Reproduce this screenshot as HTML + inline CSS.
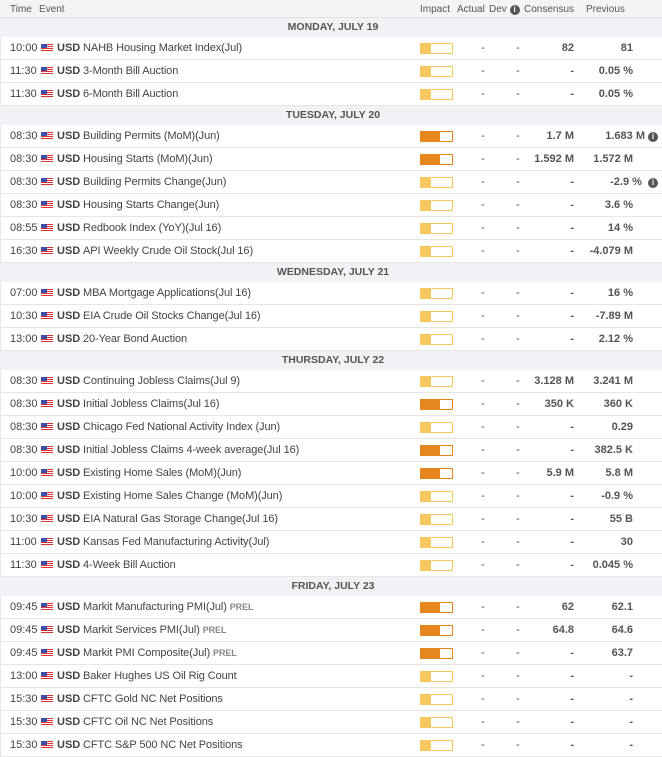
<!DOCTYPE html><html><head><meta charset="utf-8"><style>
*{margin:0;padding:0;box-sizing:border-box}
body{width:662px;height:757px;overflow:hidden;background:#fff;font-family:"Liberation Sans",sans-serif;font-size:11px;color:#444;white-space:nowrap}
.h{position:relative;height:18px;background:#f4f4f7;border-bottom:1px solid #e0e0e4;font-size:10px;color:#555}
.h span{position:absolute;top:4px}
.day{height:19px;background:#f2f2f6;text-align:center;font-weight:bold;font-size:10.5px;line-height:19px;color:#555;padding-left:4px}
.r{position:relative;height:23px;border-bottom:1px solid #e6e6ea;line-height:22px;border-left:1px solid #e6e6ea}
.r span{position:absolute;top:0;white-space:nowrap}
.t{left:9px}.c{left:56px;font-weight:bold}.e{left:82px;letter-spacing:-0.1px}
.f{position:absolute;left:40px;top:7px;width:12px;height:8px;background:repeating-linear-gradient(#d33 0 1px,#fff 1px 2px)}
.f:after{content:"";position:absolute;left:0;top:0;width:6px;height:4px;background:#3c4ea8}
.b{position:absolute;left:419px;top:6px;width:33px;height:11px;background:#fff}
.lo{border:1px solid #f6c85f;background:linear-gradient(90deg,#f6c85f 10px,#fff 10px)}
.md{border:1px solid #e3871e;background:linear-gradient(90deg,#e3871e 19px,#fff 19px)}
.a{left:480px}.d{left:515px}
.cs{right:88px;text-align:right}.p{right:29px;text-align:right}
.cs,.p{font-weight:bold;color:#555}
.pr{font-size:9px;font-weight:bold;color:#888}
.i{display:inline-block;width:10px;height:10px;border-radius:50%;background:#555;color:#fff;font-size:8px;line-height:10px;text-align:center;font-weight:bold;vertical-align:0;margin-left:3px;font-style:normal}
</style></head><body>
<div class="h"><span style="left:10px">Time</span><span style="left:39px">Event</span><span style="left:420px">Impact</span><span style="left:457px">Actual</span><span style="left:489px">Dev <span class="i" style="position:static;margin-left:0">i</span></span><span style="left:524px">Consensus</span><span style="left:586px">Previous</span></div>
<div class="day">MONDAY, JULY 19</div>
<div class="r"><span class="t">10:00</span><i class="f"></i><span class="c">USD</span><span class="e">NAHB Housing Market Index(Jul)</span><i class="b lo"></i><span class="a">-</span><span class="d">-</span><span class="cs">82</span><span class="p">81</span></div>
<div class="r"><span class="t">11:30</span><i class="f"></i><span class="c">USD</span><span class="e">3-Month Bill Auction</span><i class="b lo"></i><span class="a">-</span><span class="d">-</span><span class="cs">-</span><span class="p">0.05 %</span></div>
<div class="r"><span class="t">11:30</span><i class="f"></i><span class="c">USD</span><span class="e">6-Month Bill Auction</span><i class="b lo"></i><span class="a">-</span><span class="d">-</span><span class="cs">-</span><span class="p">0.05 %</span></div>
<div class="day">TUESDAY, JULY 20</div>
<div class="r"><span class="t">08:30</span><i class="f"></i><span class="c">USD</span><span class="e">Building Permits (MoM)(Jun)</span><i class="b md"></i><span class="a">-</span><span class="d">-</span><span class="cs">1.7 M</span><span class="p" style="right:4px">1.683 M<i class="i">i</i></span></div>
<div class="r"><span class="t">08:30</span><i class="f"></i><span class="c">USD</span><span class="e">Housing Starts (MoM)(Jun)</span><i class="b md"></i><span class="a">-</span><span class="d">-</span><span class="cs">1.592 M</span><span class="p">1.572 M</span></div>
<div class="r"><span class="t">08:30</span><i class="f"></i><span class="c">USD</span><span class="e">Building Permits Change(Jun)</span><i class="b lo"></i><span class="a">-</span><span class="d">-</span><span class="cs">-</span><span class="p" style="right:4px">-2.9 %&nbsp;<i class="i">i</i></span></div>
<div class="r"><span class="t">08:30</span><i class="f"></i><span class="c">USD</span><span class="e">Housing Starts Change(Jun)</span><i class="b lo"></i><span class="a">-</span><span class="d">-</span><span class="cs">-</span><span class="p">3.6 %</span></div>
<div class="r"><span class="t">08:55</span><i class="f"></i><span class="c">USD</span><span class="e">Redbook Index (YoY)(Jul 16)</span><i class="b lo"></i><span class="a">-</span><span class="d">-</span><span class="cs">-</span><span class="p">14 %</span></div>
<div class="r"><span class="t">16:30</span><i class="f"></i><span class="c">USD</span><span class="e">API Weekly Crude Oil Stock(Jul 16)</span><i class="b lo"></i><span class="a">-</span><span class="d">-</span><span class="cs">-</span><span class="p">-4.079 M</span></div>
<div class="day">WEDNESDAY, JULY 21</div>
<div class="r"><span class="t">07:00</span><i class="f"></i><span class="c">USD</span><span class="e">MBA Mortgage Applications(Jul 16)</span><i class="b lo"></i><span class="a">-</span><span class="d">-</span><span class="cs">-</span><span class="p">16 %</span></div>
<div class="r"><span class="t">10:30</span><i class="f"></i><span class="c">USD</span><span class="e">EIA Crude Oil Stocks Change(Jul 16)</span><i class="b lo"></i><span class="a">-</span><span class="d">-</span><span class="cs">-</span><span class="p">-7.89 M</span></div>
<div class="r"><span class="t">13:00</span><i class="f"></i><span class="c">USD</span><span class="e">20-Year Bond Auction</span><i class="b lo"></i><span class="a">-</span><span class="d">-</span><span class="cs">-</span><span class="p">2.12 %</span></div>
<div class="day">THURSDAY, JULY 22</div>
<div class="r"><span class="t">08:30</span><i class="f"></i><span class="c">USD</span><span class="e">Continuing Jobless Claims(Jul 9)</span><i class="b lo"></i><span class="a">-</span><span class="d">-</span><span class="cs">3.128 M</span><span class="p">3.241 M</span></div>
<div class="r"><span class="t">08:30</span><i class="f"></i><span class="c">USD</span><span class="e">Initial Jobless Claims(Jul 16)</span><i class="b md"></i><span class="a">-</span><span class="d">-</span><span class="cs">350 K</span><span class="p">360 K</span></div>
<div class="r"><span class="t">08:30</span><i class="f"></i><span class="c">USD</span><span class="e">Chicago Fed National Activity Index (Jun)</span><i class="b lo"></i><span class="a">-</span><span class="d">-</span><span class="cs">-</span><span class="p">0.29</span></div>
<div class="r"><span class="t">08:30</span><i class="f"></i><span class="c">USD</span><span class="e">Initial Jobless Claims 4-week average(Jul 16)</span><i class="b md"></i><span class="a">-</span><span class="d">-</span><span class="cs">-</span><span class="p">382.5 K</span></div>
<div class="r"><span class="t">10:00</span><i class="f"></i><span class="c">USD</span><span class="e">Existing Home Sales (MoM)(Jun)</span><i class="b md"></i><span class="a">-</span><span class="d">-</span><span class="cs">5.9 M</span><span class="p">5.8 M</span></div>
<div class="r"><span class="t">10:00</span><i class="f"></i><span class="c">USD</span><span class="e">Existing Home Sales Change (MoM)(Jun)</span><i class="b lo"></i><span class="a">-</span><span class="d">-</span><span class="cs">-</span><span class="p">-0.9 %</span></div>
<div class="r"><span class="t">10:30</span><i class="f"></i><span class="c">USD</span><span class="e">EIA Natural Gas Storage Change(Jul 16)</span><i class="b lo"></i><span class="a">-</span><span class="d">-</span><span class="cs">-</span><span class="p">55 B</span></div>
<div class="r"><span class="t">11:00</span><i class="f"></i><span class="c">USD</span><span class="e">Kansas Fed Manufacturing Activity(Jul)</span><i class="b lo"></i><span class="a">-</span><span class="d">-</span><span class="cs">-</span><span class="p">30</span></div>
<div class="r"><span class="t">11:30</span><i class="f"></i><span class="c">USD</span><span class="e">4-Week Bill Auction</span><i class="b lo"></i><span class="a">-</span><span class="d">-</span><span class="cs">-</span><span class="p">0.045 %</span></div>
<div class="day">FRIDAY, JULY 23</div>
<div class="r"><span class="t">09:45</span><i class="f"></i><span class="c">USD</span><span class="e">Markit Manufacturing PMI(Jul) <b class="pr">PREL</b></span><i class="b md"></i><span class="a">-</span><span class="d">-</span><span class="cs">62</span><span class="p">62.1</span></div>
<div class="r"><span class="t">09:45</span><i class="f"></i><span class="c">USD</span><span class="e">Markit Services PMI(Jul) <b class="pr">PREL</b></span><i class="b md"></i><span class="a">-</span><span class="d">-</span><span class="cs">64.8</span><span class="p">64.6</span></div>
<div class="r"><span class="t">09:45</span><i class="f"></i><span class="c">USD</span><span class="e">Markit PMI Composite(Jul) <b class="pr">PREL</b></span><i class="b md"></i><span class="a">-</span><span class="d">-</span><span class="cs">-</span><span class="p">63.7</span></div>
<div class="r"><span class="t">13:00</span><i class="f"></i><span class="c">USD</span><span class="e">Baker Hughes US Oil Rig Count</span><i class="b lo"></i><span class="a">-</span><span class="d">-</span><span class="cs">-</span><span class="p">-</span></div>
<div class="r"><span class="t">15:30</span><i class="f"></i><span class="c">USD</span><span class="e">CFTC Gold NC Net Positions</span><i class="b lo"></i><span class="a">-</span><span class="d">-</span><span class="cs">-</span><span class="p">-</span></div>
<div class="r"><span class="t">15:30</span><i class="f"></i><span class="c">USD</span><span class="e">CFTC Oil NC Net Positions</span><i class="b lo"></i><span class="a">-</span><span class="d">-</span><span class="cs">-</span><span class="p">-</span></div>
<div class="r"><span class="t">15:30</span><i class="f"></i><span class="c">USD</span><span class="e">CFTC S&amp;P 500 NC Net Positions</span><i class="b lo"></i><span class="a">-</span><span class="d">-</span><span class="cs">-</span><span class="p">-</span></div>
</body></html>
